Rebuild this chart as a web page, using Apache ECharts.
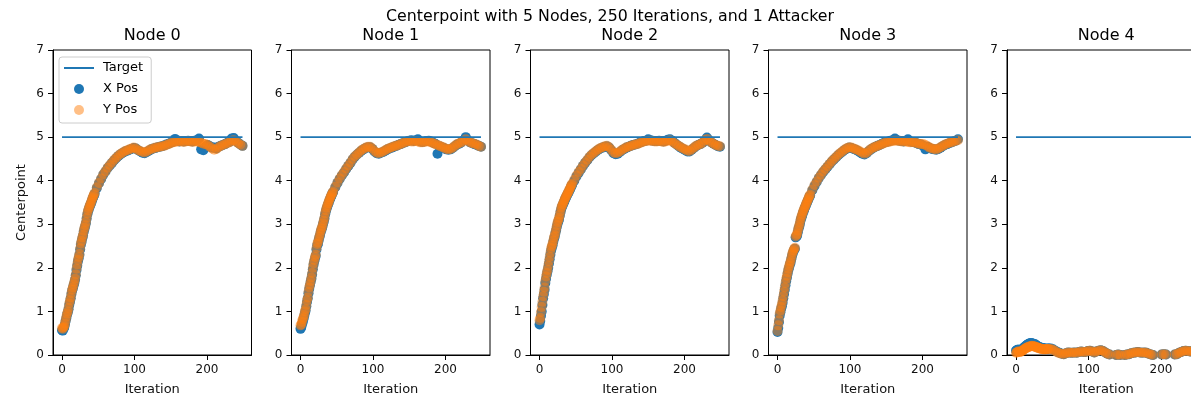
<!DOCTYPE html>
<html><head><meta charset="utf-8">
<script src="https://cdn.jsdelivr.net/npm/echarts@6/dist/echarts.min.js"></script>
<style>html,body{margin:0;padding:0;background:#fff}#chart{width:1191px;height:397px}</style>
</head><body><div id="chart"></div>
<script>
const suptitle = 'Centerpoint with 5 Nodes, 250 Iterations, and 1 Attacker';
const nodeNames = ['Node 0', 'Node 1', 'Node 2', 'Node 3', 'Node 4'];
const seriesNames = ['Target', 'X Pos', 'Y Pos'];
const xAxisName = 'Iteration';
const yAxisName = 'Centerpoint';
const targetValue = 5;
const xTickValues = [0, 100, 200];
const yMin = 0, yMax = 7, yStep = 1;
const xMin = -12.45, xMax = 261.45;

const iterations = [0,1,2,3,4,5,6,7,8,9,10,11,12,13,14,15,16,17,18,19,20,21,22,23,24,25,26,27,28,29,30,31,32,33,34,35,36,37,38,39,40,41,42,43,44,
 45,48,51,54,57,60,63,66,69,72,75,78,81,84,87,90,93,96,99,102,105,108,111,114,117,120,123,126,129,132,135,138,141,144,147,150,153,156,159,162,165,168,171,174,177,180,183,186,189,192,195,198,201,204,207,210,213,216,219,222,225,228,231,234,237,240,243,246,249];

const node0X = [0.57,0.56,0.6,0.63,0.7,0.78,0.85,0.93,0.98,1.05,
 1.15,1.22,1.3,1.4,1.48,1.53,1.6,1.66,1.73,1.83,
 1.95,2.05,2.15,2.22,2.3,2.42,2.53,2.6,2.68,2.74,
 2.83,2.9,2.96,3.03,3.13,3.23,3.3,3.35,3.4,3.44,
 3.48,3.53,3.58,3.62,3.66,
 3.7,3.83,3.94,4.04,4.14,
 4.21,4.29,4.35,4.41,4.47,4.52,4.57,4.61,4.64,4.67,
 4.69,4.71,4.73,4.75,4.74,4.7,4.67,4.64,4.63,4.66,
 4.69,4.72,4.74,4.75,4.77,4.78,4.79,4.81,4.83,4.85,
 4.87,4.89,4.96,4.92,4.9,4.91,4.9,4.91,4.92,4.91,
 4.9,4.92,4.93,4.97,4.72,4.7,4.78,4.82,4.79,4.76,
 4.76,4.74,4.78,4.8,4.82,4.84,4.87,4.89,4.97,4.98,
 4.91,4.87,4.83,4.8];
const node0Y = [0.62,0.6,0.63,0.66,0.72,0.8,0.88,0.95,1.0,1.08,
 1.18,1.25,1.32,1.42,1.5,1.55,1.62,1.68,1.75,1.85,
 1.98,2.08,2.18,2.25,2.32,2.45,2.56,2.62,2.7,2.76,
 2.85,2.92,2.98,3.05,3.15,3.25,3.32,3.37,3.42,3.46,
 3.5,3.55,3.6,3.64,3.68,
 3.72,3.85,3.95,4.05,4.15,
 4.22,4.3,4.36,4.42,4.48,4.53,4.58,4.62,4.65,4.68,
 4.7,4.72,4.74,4.76,4.74,4.7,4.68,4.66,4.65,4.67,
 4.7,4.73,4.74,4.76,4.77,4.78,4.79,4.8,4.82,4.84,
 4.86,4.88,4.89,4.9,4.9,4.9,4.89,4.9,4.91,4.9,
 4.89,4.9,4.9,4.89,4.87,4.85,4.84,4.82,4.78,4.74,
 4.71,4.73,4.77,4.8,4.82,4.84,4.86,4.88,4.92,4.93,
 4.9,4.86,4.83,4.8];
const node1X = [0.6,0.63,0.7,0.75,0.82,0.89,0.96,1.02,1.12,1.22,
 1.3,1.42,1.52,1.6,1.68,1.75,1.85,1.97,2.07,2.15,
 2.22,2.28,2.42,2.52,2.55,2.63,2.7,2.76,2.83,2.88,
 2.93,3.0,3.06,3.13,3.23,3.3,3.36,3.41,3.46,3.5,
 3.55,3.59,3.63,3.67,3.71,
 3.74,3.85,3.95,4.04,4.12,
 4.19,4.27,4.34,4.41,4.49,4.55,4.6,4.64,4.69,4.72,
 4.75,4.77,4.77,4.73,4.67,4.63,4.62,4.64,4.66,4.69,
 4.72,4.74,4.76,4.78,4.8,4.82,4.84,4.86,4.88,4.9,
 4.92,4.93,4.91,4.93,4.95,4.9,4.89,4.9,4.91,4.92,
 4.9,4.87,4.85,4.62,4.79,4.77,4.75,4.72,4.71,4.72,
 4.75,4.79,4.83,4.85,4.88,4.93,5.0,4.93,4.88,4.86,
 4.84,4.82,4.8,4.78];
const node1Y = [0.68,0.7,0.76,0.82,0.86,0.92,1.0,1.05,1.15,1.25,
 1.32,1.45,1.55,1.62,1.7,1.78,1.88,2.0,2.1,2.18,
 2.25,2.3,2.45,2.55,2.58,2.65,2.72,2.78,2.85,2.9,
 2.95,3.02,3.08,3.15,3.25,3.32,3.38,3.43,3.48,3.52,
 3.57,3.61,3.65,3.68,3.72,
 3.75,3.86,3.96,4.05,4.13,
 4.2,4.28,4.35,4.42,4.5,4.56,4.6,4.65,4.7,4.73,
 4.76,4.78,4.78,4.74,4.68,4.64,4.63,4.65,4.67,4.7,
 4.73,4.75,4.77,4.79,4.8,4.82,4.84,4.86,4.88,4.9,
 4.91,4.9,4.9,4.91,4.9,4.88,4.88,4.89,4.9,4.9,
 4.88,4.86,4.84,4.82,4.8,4.78,4.76,4.73,4.72,4.73,
 4.76,4.8,4.84,4.86,4.88,4.92,4.95,4.92,4.88,4.86,
 4.85,4.83,4.8,4.78];
const node2X = [0.7,0.78,0.9,1.0,1.15,1.3,1.4,1.5,1.65,1.75,
 1.84,1.92,2.0,2.1,2.2,2.3,2.4,2.46,2.52,2.6,
 2.67,2.72,2.8,2.87,2.95,3.02,3.07,3.12,3.2,3.28,
 3.35,3.4,3.44,3.48,3.52,3.56,3.6,3.63,3.67,3.7,
 3.73,3.77,3.8,3.84,3.88,
 3.91,4.0,4.1,4.18,4.26,
 4.34,4.41,4.47,4.54,4.59,4.63,4.67,4.71,4.74,4.76,
 4.78,4.79,4.76,4.7,4.63,4.61,4.62,4.66,4.7,4.73,
 4.76,4.78,4.8,4.82,4.83,4.85,4.87,4.89,4.91,4.92,
 4.95,4.93,4.92,4.91,4.91,4.92,4.91,4.9,4.92,4.94,
 4.95,4.92,4.87,4.83,4.79,4.76,4.73,4.7,4.67,4.67,
 4.71,4.75,4.79,4.82,4.84,4.87,4.91,4.99,4.93,4.88,
 4.85,4.82,4.79,4.78];
const node2Y = [0.8,0.85,0.98,1.1,1.22,1.35,1.45,1.55,1.7,1.8,
 1.88,1.95,2.05,2.15,2.25,2.35,2.45,2.5,2.55,2.62,
 2.7,2.75,2.82,2.9,2.98,3.05,3.1,3.15,3.22,3.3,
 3.38,3.42,3.46,3.5,3.54,3.58,3.62,3.65,3.69,3.72,
 3.75,3.79,3.82,3.86,3.9,
 3.93,4.02,4.12,4.2,4.27,
 4.35,4.42,4.48,4.55,4.6,4.64,4.68,4.72,4.75,4.77,
 4.79,4.8,4.77,4.71,4.65,4.63,4.64,4.67,4.71,4.74,
 4.77,4.78,4.8,4.82,4.83,4.84,4.86,4.88,4.9,4.91,
 4.92,4.92,4.91,4.9,4.9,4.91,4.9,4.89,4.9,4.92,
 4.93,4.9,4.86,4.83,4.8,4.77,4.74,4.72,4.69,4.68,
 4.72,4.76,4.8,4.82,4.84,4.87,4.93,4.96,4.92,4.88,
 4.85,4.82,4.8,4.79];
const node3X = [0.53,0.62,0.76,0.9,0.98,1.06,1.12,1.2,1.3,1.4,
 1.5,1.6,1.7,1.78,1.87,1.95,2.01,2.07,2.12,2.2,
 2.27,2.33,2.38,2.42,2.44,2.7,2.72,2.74,2.82,2.9,
 2.95,3.02,3.1,3.15,3.2,3.26,3.3,3.35,3.39,3.43,
 3.47,3.51,3.55,3.59,3.63,
 3.66,3.78,3.88,3.97,4.06,
 4.13,4.2,4.26,4.32,4.38,4.44,4.49,4.54,4.59,4.63,
 4.67,4.71,4.74,4.76,4.75,4.73,4.71,4.68,4.65,4.62,
 4.6,4.63,4.68,4.72,4.75,4.78,4.8,4.82,4.85,4.87,
 4.89,4.9,4.92,4.93,4.97,4.93,4.92,4.91,4.9,4.92,
 4.95,4.9,4.89,4.88,4.86,4.84,4.83,4.8,4.72,4.78,
 4.75,4.73,4.72,4.71,4.73,4.76,4.79,4.82,4.84,4.86,
 4.88,4.9,4.92,4.95];
const node3Y = [0.55,0.68,0.8,0.95,1.02,1.1,1.17,1.25,1.35,1.45,
 1.55,1.65,1.75,1.82,1.9,1.98,2.04,2.1,2.15,2.22,
 2.3,2.36,2.4,2.44,2.46,2.72,2.75,2.78,2.85,2.92,
 2.98,3.05,3.12,3.18,3.23,3.28,3.32,3.37,3.41,3.45,
 3.49,3.53,3.57,3.61,3.65,
 3.68,3.8,3.9,3.98,4.07,
 4.14,4.21,4.27,4.33,4.39,4.45,4.5,4.55,4.6,4.64,
 4.68,4.72,4.75,4.77,4.76,4.74,4.72,4.7,4.67,4.64,
 4.62,4.64,4.69,4.73,4.76,4.78,4.8,4.82,4.84,4.86,
 4.88,4.89,4.9,4.91,4.92,4.92,4.91,4.9,4.9,4.9,
 4.89,4.88,4.89,4.88,4.86,4.85,4.84,4.84,4.82,4.79,
 4.76,4.74,4.73,4.72,4.74,4.77,4.8,4.83,4.85,4.87,
 4.88,4.9,4.92,4.93];
const node4X = [0.1,0.11,0.12,0.12,0.12,0.11,0.11,0.12,0.13,0.14,
 0.15,0.17,0.19,0.2,0.22,0.23,0.24,0.25,0.26,0.27,
 0.27,0.27,0.27,0.26,0.26,0.25,0.24,0.24,0.22,0.21,
 0.2,0.19,0.18,0.17,0.17,0.16,0.16,0.16,0.15,0.15,
 0.15,0.14,0.14,0.14,0.15,
 0.15,0.15,0.13,0.1,0.07,
 0.05,0.03,0.02,0.04,0.06,0.05,0.05,0.06,0.05,0.07,
 0.08,0.07,0.07,0.09,0.1,0.08,0.06,0.08,0.1,0.11,
 0.09,0.06,0.03,0.01,-0.02,-0.03,0.0,0.01,0.0,-0.01,
 0.0,0.01,0.02,0.04,0.05,0.06,0.07,0.06,0.05,0.06,
 0.05,0.03,0.01,0.0,-0.02,-0.04,-0.02,0.01,0.02,0.01,
 -0.02,-0.03,-0.01,0.01,0.02,0.05,0.07,0.09,0.1,0.09,
 0.08,0.09,0.07,0.08];
const node4Y = [0.05,0.06,0.07,0.08,0.08,0.07,0.07,0.08,0.09,0.1,
 0.11,0.13,0.14,0.15,0.16,0.17,0.18,0.18,0.19,0.2,
 0.2,0.2,0.21,0.2,0.2,0.2,0.19,0.19,0.18,0.17,
 0.17,0.16,0.15,0.15,0.15,0.14,0.14,0.13,0.13,0.13,
 0.13,0.13,0.13,0.14,0.14,
 0.14,0.14,0.12,0.09,0.06,
 0.04,0.03,0.02,0.04,0.06,0.05,0.05,0.06,0.05,0.07,
 0.08,0.07,0.07,0.09,0.1,0.08,0.06,0.08,0.1,0.11,
 0.09,0.06,0.03,0.01,-0.02,-0.03,0.0,0.01,0.0,-0.01,
 0.0,0.01,0.02,0.04,0.05,0.06,0.07,0.06,0.05,0.06,
 0.05,0.03,0.01,0.0,-0.02,-0.04,-0.02,0.01,0.02,0.01,
 -0.02,-0.03,-0.01,0.01,0.02,0.05,0.07,0.09,0.1,0.09,
 0.08,0.09,0.07,0.08];

const nodesX = [node0X, node1X, node2X, node3X, node4X];
const nodesY = [node0Y, node1Y, node2Y, node3Y, node4Y];

const gridLefts = [53, 291.5, 530.5, 768.5, 1007];
const gridTop = 50, gridW = 198.5, gridH = 305;
const FONT = 'DejaVu Sans';
const BLUE = '#1f77b4', ORANGE = '#ff7f0e';
const MARK = 10;

const chart = echarts.init(document.getElementById('chart'), null, {renderer: 'canvas'});

const titles = [{
  text: suptitle, left: 610, top: 9, textAlign: 'center', padding: 0,
  textStyle: {fontFamily: FONT, fontSize: 15.8, fontWeight: 'normal', color: '#000'}
}];
const grids = [], xAxes = [], yAxes = [], series = [];
nodeNames.forEach((nm, i) => {
  titles.push({
    text: nm, left: gridLefts[i] + gridW / 2, top: 28, textAlign: 'center', padding: 0,
    textStyle: {fontFamily: FONT, fontSize: 16, fontWeight: 'normal', color: '#000'}
  });
  grids.push({left: gridLefts[i], top: gridTop, width: gridW, height: gridH,
    containLabel: false, outerBoundsMode: 'none',
    show: true, borderColor: '#000', borderWidth: 1, backgroundColor: 'transparent'});
  xAxes.push({
    gridIndex: i, type: 'value', min: xMin, max: xMax,
    splitLine: {show: false},
    axisLine: {show: true, onZero: false, lineStyle: {color: '#000', width: 1}},
    axisTick: {show: true, customValues: xTickValues, length: 5, lineStyle: {color: '#000'}},
    axisLabel: {customValues: xTickValues, fontFamily: FONT, fontSize: 12, color: '#111', margin: 9},
    name: xAxisName, nameLocation: 'middle', nameGap: 28,
    nameTextStyle: {fontFamily: FONT, fontSize: 13, color: '#111'}
  });
  yAxes.push({
    gridIndex: i, type: 'value', min: yMin, max: yMax, interval: yStep,
    splitLine: {show: false},
    axisLine: {show: true, onZero: false, lineStyle: {color: '#000', width: 1}},
    axisTick: {show: true, length: 5, lineStyle: {color: '#000'}},
    axisLabel: {fontFamily: FONT, fontSize: 12, color: '#111', margin: 9},
    name: i === 0 ? yAxisName : '', nameLocation: 'middle', nameGap: 25, nameRotate: 90,
    nameTextStyle: {fontFamily: FONT, fontSize: 13, color: '#111'}
  });
  series.push({
    name: seriesNames[0], type: 'line', xAxisIndex: i, yAxisIndex: i,
    data: [[iterations[0], targetValue], [iterations[iterations.length - 1], targetValue]],
    symbol: 'none', lineStyle: {color: BLUE, width: 1.8}, itemStyle: {color: BLUE}, silent: true
  });
  series.push({
    name: seriesNames[1], type: 'scatter', xAxisIndex: i, yAxisIndex: i,
    symbolSize: MARK, itemStyle: {color: BLUE, opacity: 1},
    data: iterations.map((it, k) => [it, nodesX[i][k]])
  });
  series.push({
    name: seriesNames[2], type: 'scatter', xAxisIndex: i, yAxisIndex: i,
    symbolSize: MARK, itemStyle: {color: ORANGE, opacity: 0.5},
    data: iterations.map((it, k) => [it, nodesY[i][k]])
  });
});

chart.setOption({
  animation: false,
  backgroundColor: '#fff',
  textStyle: {fontFamily: FONT},
  title: titles,
  legend: {
    orient: 'vertical', left: 59, top: 57, padding: [4, 8, 6, 5],
    itemWidth: 30, itemHeight: 10, itemGap: 7,
    data: [
      {name: seriesNames[0], icon: 'path://M0,0L30,0L30,2L0,2Z', itemStyle: {color: BLUE}},
      seriesNames[1], seriesNames[2]
    ],
    borderColor: '#cccccc', borderWidth: 1, borderRadius: 3,
    backgroundColor: 'rgba(255,255,255,0.8)',
    textStyle: {fontFamily: FONT, fontSize: 13, color: '#000', lineHeight: 14, padding: [0, 0, 0, 4]}
  },
  grid: grids, xAxis: xAxes, yAxis: yAxes, series: series
});
</script></body></html>
